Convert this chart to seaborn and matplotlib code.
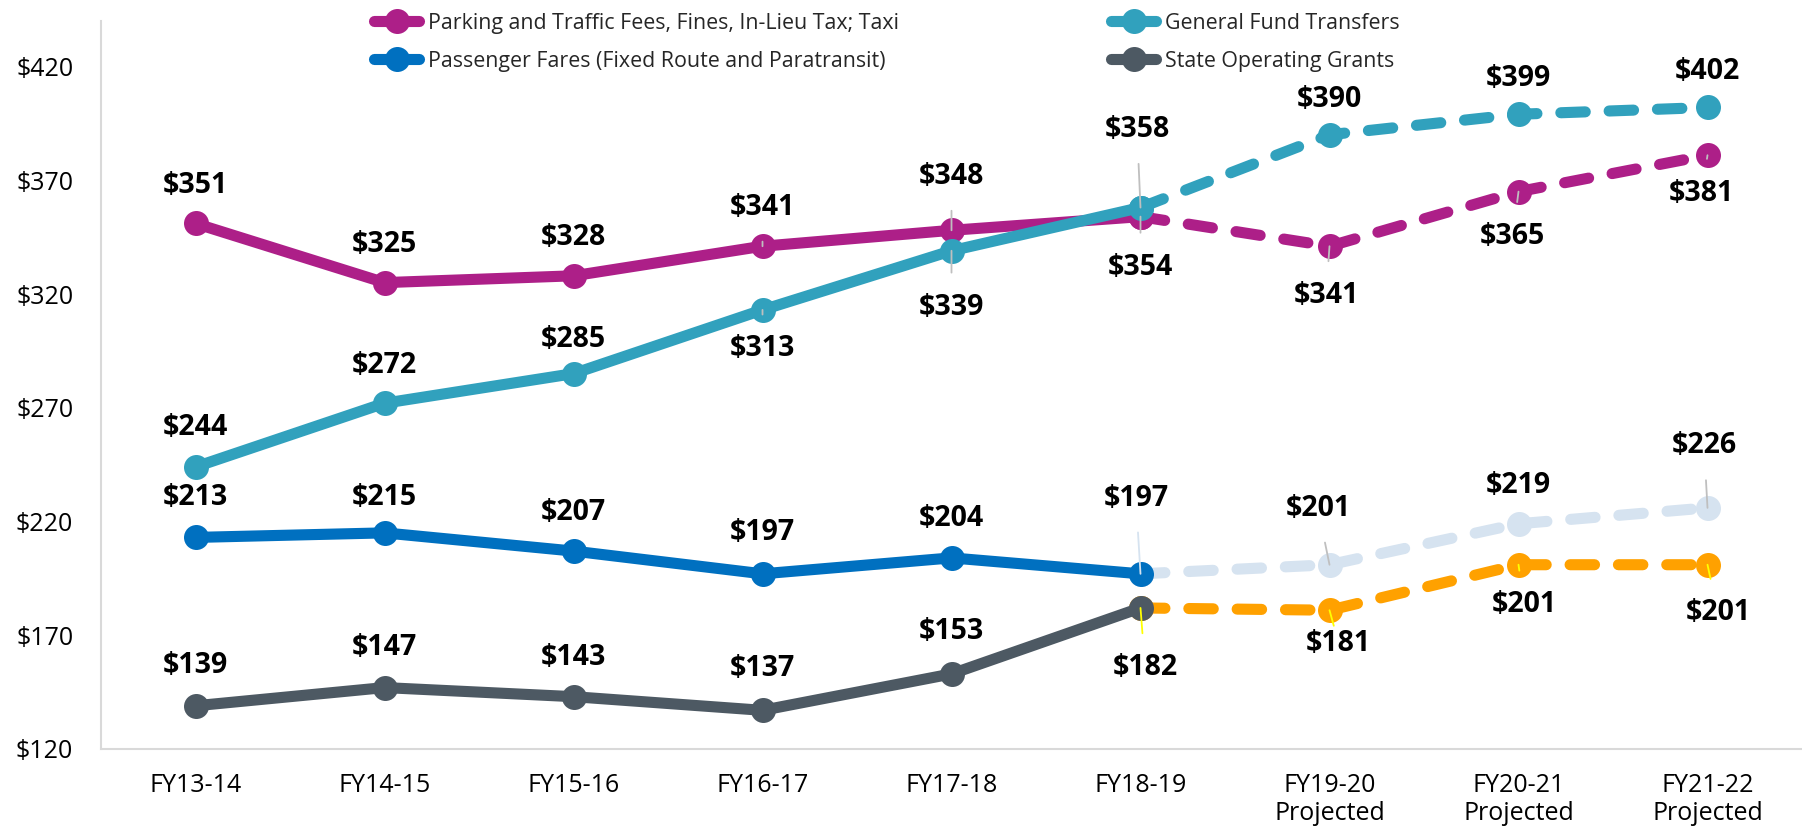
import numpy as np
import pandas as pd
import matplotlib
matplotlib.use("Agg")
import matplotlib.pyplot as plt
import seaborn as sns
from matplotlib.lines import Line2D

# ---------------- data ----------------
periods = ["FY13-14", "FY14-15", "FY15-16", "FY16-17", "FY17-18", "FY18-19",
           "FY19-20\nProjected", "FY20-21\nProjected", "FY21-22\nProjected"]
n_actual = 6  # first six periods are actuals, the rest projected

series_names = ["Parking and Traffic Fees, Fines, In-Lieu Tax; Taxi",
                "Passenger Fares (Fixed Route and Paratransit)",
                "General Fund Transfers",
                "State Operating Grants"]
parking = [351, 325, 328, 341, 348, 354, 341, 365, 381]
fares = [213, 215, 207, 197, 204, 197, 201, 219, 226]
general = [244, 272, 285, 313, 339, 358, 390, 399, 402]
state = [139, 147, 143, 137, 153, 182, 181, 201, 201]
y_ticks = [120, 170, 220, 270, 320, 370, 420]

# ---------------- styling / layout ----------------
solid_colors = ["#AD1F88", "#0070C0", "#31A1BD", "#4D5963"]
proj_colors = ["#AD1F88", "#D6E3F0", "#31A1BD", "#FFA100"]
leader_colors = ["#BFBFBF", "#D6E3F0", "#BFBFBF", "#FFFF00"]

# label offsets measured in reference display pixels (dx, dy up-positive)
label_offsets = [
    [(0, 33), (0, 33), (0, 33), (0, 34), (0, 47), (0, -44), (-3, -43), (-5, -39), (-5, -33)],
    [(0, 35), (0, 31), (0, 34), (0, 36), (0, 34), (-4, 66), (-10, 49), (0, 33), (-3, 54)],
    [(0, 34), (0, 33), (0, 30), (0, -34), (0, -49), (-3, 68), (0, 31), (0, 31), (0, 31)],
    [(0, 35), (0, 35), (0, 34), (0, 36), (0, 37), (4, -52), (8, -29), (5, -35), (9, -42)],
]
leaders = [
    [0, 0, 0, 1, 1, 1, 1, 1, 1],
    [0, 0, 0, 0, 0, 1, 1, 0, 1],
    [0, 0, 0, 1, 1, 1, 0, 0, 0],
    [0, 0, 0, 0, 0, 1, 1, 1, 1],
]
leader_override = {(1, 6): "#BFBFBF", (1, 8): "#BFBFBF"}
PX2PT = 0.827

sns.set_theme(style="white")
plt.rcParams["font.family"] = ["Open Sans", "DejaVu Sans"]

all_values = [parking, fares, general, state]
rows = []
for name, vals in zip(series_names, all_values):
    for i, (p, v) in enumerate(zip(periods, vals)):
        rows.append({"series": name, "period": p, "x": i, "value": v})
df = pd.DataFrame(rows)

fig = plt.figure(figsize=(18.02, 8.32), dpi=100)
ax = fig.add_axes([101 / 1802, 1 - 749 / 832, 1 - 101 / 1802, (749 - 21) / 832])

LW = 8
MS = 18
dash = (0, (2.2, 2.15))

# projected (dashed) segments, drawn first
for k, name in enumerate(series_names):
    sub = df[(df["series"] == name) & (df["x"] >= n_actual - 1)]
    sns.lineplot(data=sub, x="x", y="value", ax=ax, color=proj_colors[k],
                 lw=LW, marker="o", markersize=MS, markeredgewidth=0,
                 linestyle=dash, dash_capstyle="round", zorder=2 + k * 0.1,
                 legend=False, sort=False)
# actual (solid) segments
order = [0, 2, 1, 3]
for k in order:
    name = series_names[k]
    sub = df[(df["series"] == name) & (df["x"] < n_actual)]
    sns.lineplot(data=sub, x="x", y="value", ax=ax, color=solid_colors[k],
                 lw=LW, marker="o", markersize=MS, markeredgewidth=0,
                 solid_capstyle="round", zorder=4 + k * 0.1, legend=False, sort=False)

# data labels
for k, name in enumerate(series_names):
    sub = df[df["series"] == name].reset_index(drop=True)
    for i, r in sub.iterrows():
        dx, dy = label_offsets[k][i]
        kw = {}
        if leaders[k][i]:
            col = leader_override.get((k, i), leader_colors[k])
            kw["arrowprops"] = dict(arrowstyle="-", color=col, lw=1.3,
                                    shrinkA=12, shrinkB=0)
        ax.annotate(f"${r['value']}", xy=(r["x"], r["value"]),
                    xytext=(dx * PX2PT, dy * PX2PT), textcoords="offset points",
                    ha="center", va="center", fontsize=20.5, fontweight="bold",
                    color="#000000", zorder=10, **kw)

# axes
ax.set_xlim(-0.5, 8.5)
ax.set_ylim(120, 440)
ax.set_xticks(range(len(periods)), labels=periods)
ax.set_yticks(y_ticks, labels=[f"${v}" for v in y_ticks])
ax.set_xlabel("")
ax.set_ylabel("")
ax.tick_params(axis="both", length=0, labelsize=18, colors="#000000")
ax.tick_params(axis="x", pad=17)
ax.tick_params(axis="y", pad=20)
for s in ["top", "right"]:
    ax.spines[s].set_visible(False)
for s in ["left", "bottom"]:
    ax.spines[s].set_color("#D9D9D9")
    ax.spines[s].set_linewidth(1.5)
ax.grid(False)

# legend
handles = [Line2D([], [], color=solid_colors[k], lw=LW, marker="o", markersize=MS,
                  markeredgewidth=0, solid_capstyle="round") for k in range(4)]
fig.legend(handles, series_names, loc="upper left", bbox_to_anchor=(0.2006, 1.0),
           ncol=2, frameon=False, fontsize=15.4, handlelength=2.1, handletextpad=0.4,
           columnspacing=9.93, labelspacing=0.79, borderpad=0.1)

fig.savefig("out.png", dpi=100)
